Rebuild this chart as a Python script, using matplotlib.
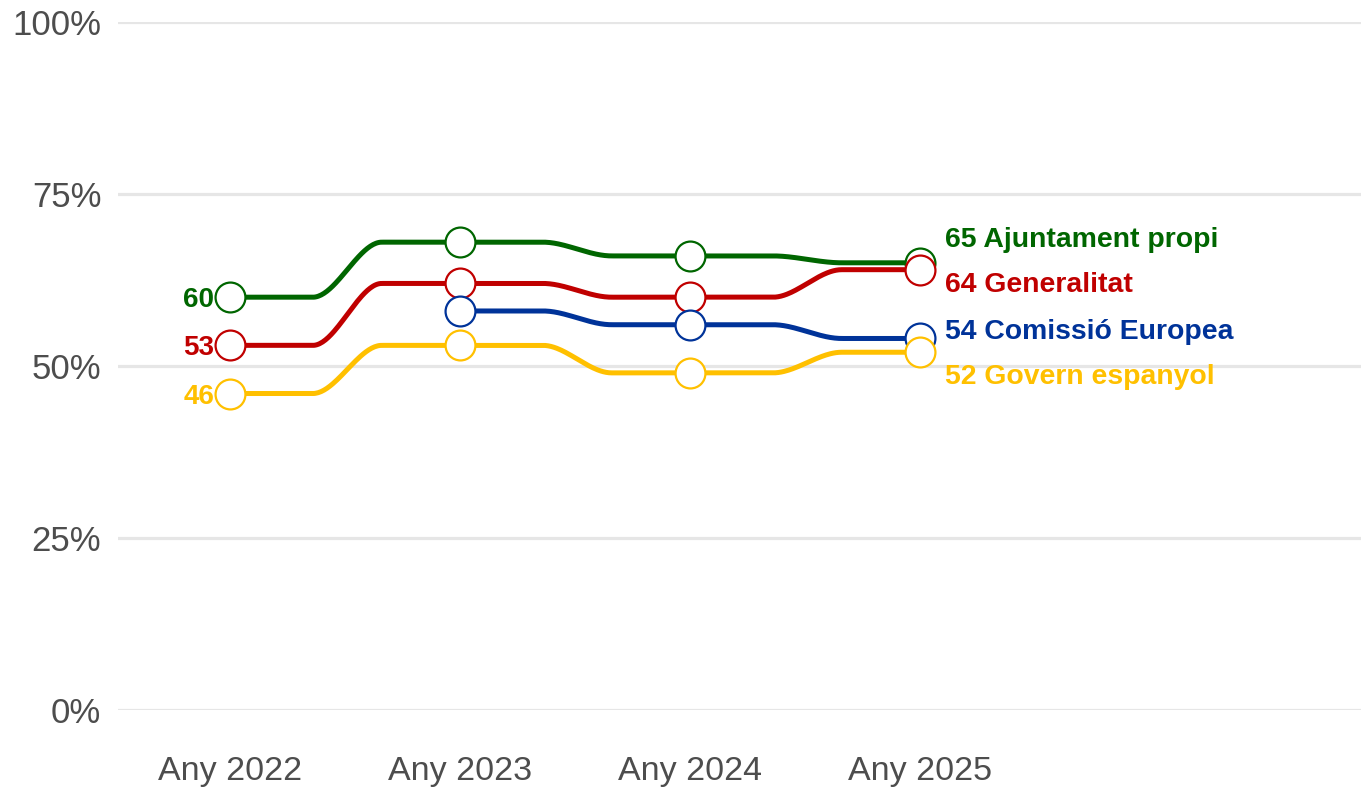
import numpy as np
import matplotlib
matplotlib.use("Agg")
from matplotlib import pyplot as plt

# data
years = [2022, 2023, 2024, 2025]
tick_labels = ["Any 2022", "Any 2023", "Any 2024", "Any 2025"]
series_names = ["Ajuntament propi", "Generalitat", "Comissió Europea", "Govern espanyol"]
ajuntament = [60, 68, 66, 65]
generalitat = [53, 62, 60, 64]
comissio = [None, 58, 56, 54]
govern = [46, 53, 49, 52]

colors = ["#006600", "#C00000", "#003399", "#FFC000"]
# vertical spots of the right-hand labels (they are pushed apart so they don't overlap)
end_label_y = [68.8, 62.2, 55.4, 48.8]

plt.rcParams["font.family"] = ["Liberation Sans", "DejaVu Sans"]

fig = plt.figure(figsize=(13.61, 7.91), dpi=100)
ax = fig.add_axes([118 / 1361, 81 / 791, 1 - 118 / 1361, 688 / 791])
ax.set_xlim(2022 - 112 / 230, 2025 + 441 / 230)
ax.set_ylim(0, 100)


def bump(xa, ya, xb, yb):
    # flat run with a smooth step in the middle of the interval
    xs = np.linspace(xa, xb, 160)
    t = np.clip(((xs - xa) / (xb - xa) - 0.36) / 0.30, 0, 1)
    s = t * t * (3 - 2 * t)
    return xs, ya + (yb - ya) * s


all_series = [ajuntament, generalitat, comissio, govern]
for i, vals in enumerate(all_series):
    pts = [(x, v) for x, v in zip(years, vals) if v is not None]
    xs_all, ys_all = [], []
    for (xa, ya), (xb, yb) in zip(pts[:-1], pts[1:]):
        xs, ys = bump(xa, ya, xb, yb)
        xs_all.extend(xs)
        ys_all.extend(ys)
    ax.plot(xs_all, ys_all, color=colors[i], lw=3.6, solid_capstyle="butt", zorder=3 + 2 * i)
    ax.plot([p[0] for p in pts], [p[1] for p in pts], ls="none", marker="o", ms=21.5,
            mfc="white", mec=colors[i], mew=1.6, zorder=4 + 2 * i)

    # start label (only where the series begins in the first year)
    if vals[0] is not None:
        ax.text(years[0] - 16 / 230, vals[0], str(vals[0]), color=colors[i], fontsize=20,
                fontweight="bold", ha="right", va="center_baseline", zorder=20)
    # end label
    ax.text(years[-1] + 25 / 230, end_label_y[i], f"{vals[-1]} {series_names[i]}", color=colors[i],
            fontsize=20.4, fontweight="bold", ha="left", va="center_baseline", zorder=20)

ax.set_yticks([0, 25, 50, 75, 100])
ax.set_yticklabels(["0%", "25%", "50%", "75%", "100%"])
ax.set_xticks(years)
ax.set_xticklabels(tick_labels)
ax.grid(axis="y", color="#E6E6E6", lw=2.3)
ax.set_axisbelow(True)
ax.tick_params(axis="y", length=0, labelsize=25, labelcolor="#4D4D4D", pad=12)
ax.tick_params(axis="x", length=0, labelsize=24.5, labelcolor="#4D4D4D", pad=33)
for sp in ax.spines.values():
    sp.set_visible(False)

fig.savefig("out.png", dpi=100)
